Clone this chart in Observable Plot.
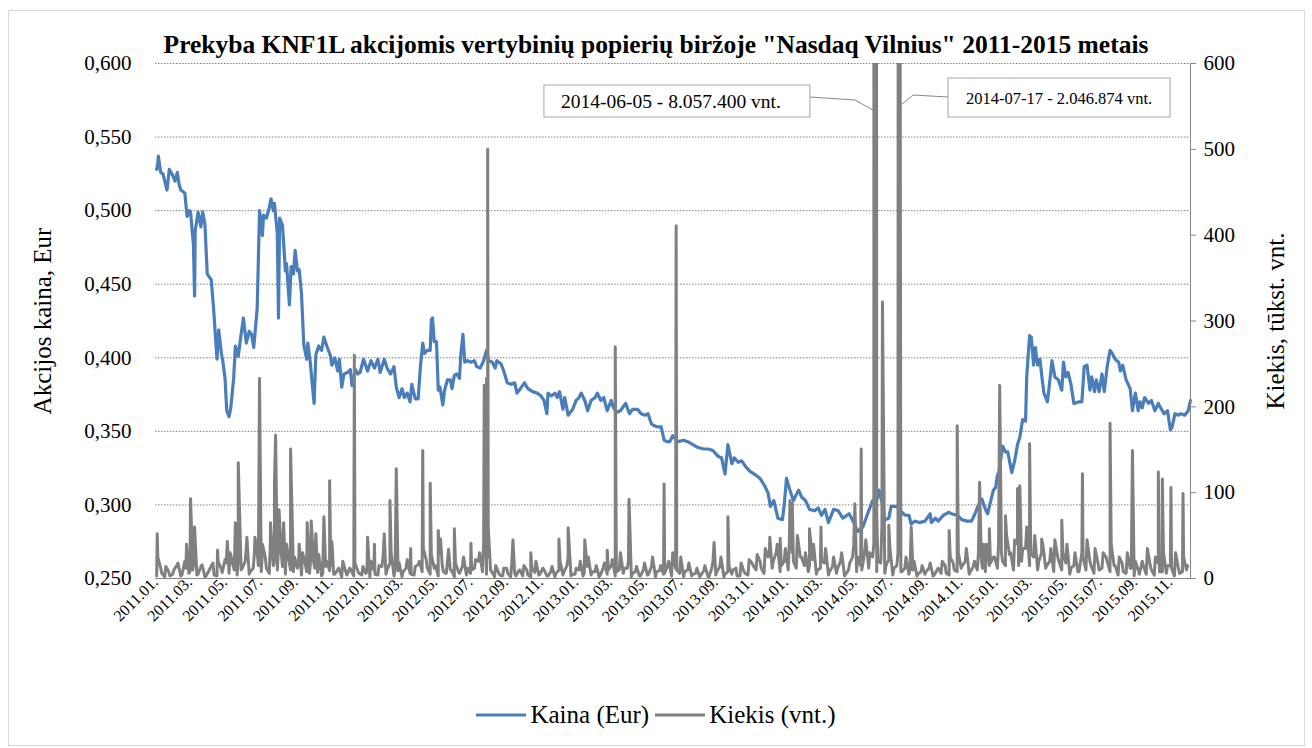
<!DOCTYPE html>
<html>
<head>
<meta charset="utf-8">
<script src="https://cdn.jsdelivr.net/npm/d3@7"></script>
<script src="https://cdn.jsdelivr.net/npm/@observablehq/plot@0.6"></script>
<style>
  body { margin: 0; background: #fff; font-family: "Liberation Serif", serif; }
  #wrap { position: relative; width: 1312px; height: 748px; overflow: hidden; background: #fff; }
  #frame { position: absolute; left: 8px; top: 10px; width: 1297px; height: 736px; border: 1px solid #d9d9d9; box-sizing: border-box; }
  #title { position: absolute; left: 0; top: 30px; width: 1312px; text-align: center; font-weight: bold; font-size: 25.5px; color: #000; font-family: "Liberation Serif", serif; }
  #chart { position: absolute; left: 0; top: 0; }
  #legend { position: absolute; left: 0; top: 701px; width: 1312px; display: flex; justify-content: center; align-items: center; font-size: 25px; color: #000; font-family: "Liberation Serif", serif; }
  #legend .item { display: flex; align-items: center; margin: 0 3px; }
  #legend svg { margin-right: 4px; }
</style>
</head>
<body>
<div id="wrap">
  <div id="frame"></div>
  <div id="chart"></div>
  <div id="title">Prekyba KNF1L akcijomis vertybinių popierių biržoje "Nasdaq Vilnius" 2011-2015 metais</div>
  <div id="legend"></div>
</div>
<script>
// ---------- data ----------
const priceLabel = "Kaina (Eur)";
const volumeLabel = "Kiekis (vnt.)";
const leftAxisTitle = "Akcijos kaina, Eur";
const rightAxisTitle = "Kiekis, tūkst. vnt.";

const xDomain = ["2011-01-01", "2015-12-07"];
const xTickLabels = ["2011.01.","2011.03.","2011.05.","2011.07.","2011.09.","2011.11.",
  "2012.01.","2012.03.","2012.05.","2012.07.","2012.09.","2012.11.",
  "2013.01.","2013.03.","2013.05.","2013.07.","2013.09.","2013.11.",
  "2014.01.","2014.03.","2014.05.","2014.07.","2014.09.","2014.11.",
  "2015.01.","2015.03.","2015.05.","2015.07.","2015.09.","2015.11."];
const priceTicks = [0.25, 0.30, 0.35, 0.40, 0.45, 0.50, 0.55, 0.60];
const volumeTicks = [0, 100, 200, 300, 400, 500, 600];

const priceDates = [
"2011-01-03","2011-01-05","2011-01-06","2011-01-10","2011-01-14","2011-01-21","2011-01-25","2011-01-31","2011-02-04","2011-02-08",
"2011-02-11","2011-02-14","2011-02-21","2011-02-25","2011-03-01","2011-03-03","2011-03-08","2011-03-10","2011-03-11","2011-03-16",
"2011-03-21","2011-03-24","2011-03-28","2011-04-01","2011-04-08","2011-04-12","2011-04-18","2011-04-21","2011-04-26","2011-04-28",
"2011-05-02","2011-05-05","2011-05-09","2011-05-12","2011-05-17","2011-05-20","2011-05-25","2011-05-30","2011-06-03","2011-06-08",
"2011-06-13","2011-06-17","2011-06-21","2011-06-27","2011-07-01","2011-07-04","2011-07-06","2011-07-08","2011-07-13","2011-07-18",
"2011-07-21","2011-07-25","2011-07-27","2011-08-01","2011-08-03","2011-08-05","2011-08-10","2011-08-15","2011-08-17","2011-08-22",
"2011-08-25","2011-08-29","2011-09-01","2011-09-05","2011-09-08","2011-09-12","2011-09-16","2011-09-21","2011-09-23","2011-09-27",
"2011-10-03","2011-10-04","2011-10-07","2011-10-12","2011-10-17","2011-10-21","2011-10-27","2011-11-01","2011-11-04","2011-11-09",
"2011-11-14","2011-11-17","2011-11-21","2011-11-25","2011-12-01","2011-12-06","2011-12-09","2011-12-15","2011-12-19","2011-12-23",
"2011-12-29","2012-01-05","2012-01-11","2012-01-17","2012-01-23","2012-01-27","2012-02-03","2012-02-08","2012-02-14","2012-02-20",
"2012-02-24","2012-02-29","2012-03-05","2012-03-09","2012-03-14","2012-03-19","2012-03-22","2012-03-28","2012-04-02","2012-04-06",
"2012-04-10","2012-04-13","2012-04-18","2012-04-23","2012-04-25","2012-04-27","2012-04-30","2012-05-04","2012-05-07","2012-05-10",
"2012-05-15","2012-05-18","2012-05-23","2012-05-28","2012-05-31","2012-06-04","2012-06-08","2012-06-13","2012-06-15","2012-06-19",
"2012-06-22","2012-06-27","2012-07-03","2012-07-09","2012-07-13","2012-07-19","2012-07-25","2012-07-30","2012-08-03","2012-08-09",
"2012-08-14","2012-08-17","2012-08-24","2012-08-29","2012-09-04","2012-09-11","2012-09-17","2012-09-21","2012-09-27","2012-10-04",
"2012-10-10","2012-10-18","2012-10-26","2012-11-02","2012-11-07","2012-11-12","2012-11-14","2012-11-20","2012-11-26","2012-11-30",
"2012-12-04","2012-12-10","2012-12-13","2012-12-19","2012-12-27","2013-01-02","2013-01-07","2013-01-11","2013-01-17","2013-01-22",
"2013-01-28","2013-02-04","2013-02-08","2013-02-14","2013-02-19","2013-02-25","2013-03-04","2013-03-08","2013-03-14","2013-03-20",
"2013-03-29","2013-04-05","2013-04-10","2013-04-19","2013-04-25","2013-05-02","2013-05-07","2013-05-13","2013-05-17","2013-05-24",
"2013-05-30","2013-06-04","2013-06-10","2013-06-14","2013-06-19","2013-06-28","2013-07-08","2013-07-15","2013-07-24","2013-08-02",
"2013-08-12","2013-08-20","2013-08-28","2013-09-06","2013-09-12","2013-09-18","2013-09-23","2013-09-30","2013-10-04","2013-10-11",
"2013-10-17","2013-10-24","2013-10-31","2013-11-08","2013-11-18","2013-11-26","2013-12-02","2013-12-06","2013-12-12","2013-12-19",
"2013-12-27","2013-12-30","2014-01-03","2014-01-09","2014-01-15","2014-01-20","2014-01-24","2014-01-30","2014-02-05","2014-02-12",
"2014-02-21","2014-02-27","2014-03-05","2014-03-11","2014-03-17","2014-03-26","2014-04-03","2014-04-11","2014-04-22","2014-04-29",
"2014-05-07","2014-05-16","2014-05-26","2014-06-02","2014-06-09","2014-06-13","2014-06-18","2014-06-23","2014-06-30","2014-07-04",
"2014-07-14","2014-07-18","2014-07-28","2014-08-04","2014-08-08","2014-08-14","2014-08-22","2014-09-01","2014-09-10","2014-09-12",
"2014-09-19","2014-09-24","2014-10-03","2014-10-13","2014-10-17","2014-10-27","2014-11-04","2014-11-13","2014-11-21","2014-11-27",
"2014-12-03","2014-12-09","2014-12-15","2014-12-19","2014-12-29","2015-01-02","2015-01-05","2015-01-08","2015-01-14","2015-01-19",
"2015-01-23","2015-01-30","2015-02-04","2015-02-09","2015-02-13","2015-02-18","2015-02-23","2015-02-25","2015-03-02","2015-03-05",
"2015-03-09","2015-03-12","2015-03-16","2015-03-20","2015-03-24","2015-03-27","2015-04-02","2015-04-07","2015-04-10","2015-04-15",
"2015-04-21","2015-04-27","2015-04-30","2015-05-04","2015-05-08","2015-05-13","2015-05-18","2015-05-26","2015-06-01","2015-06-05",
"2015-06-10","2015-06-15","2015-06-18","2015-06-23","2015-06-26","2015-07-01","2015-07-06","2015-07-10","2015-07-15","2015-07-20",
"2015-07-24","2015-07-29","2015-08-04","2015-08-07","2015-08-11","2015-08-17","2015-08-24","2015-08-28","2015-09-02","2015-09-07",
"2015-09-10","2015-09-14","2015-09-18","2015-09-25","2015-09-30","2015-10-06","2015-10-12","2015-10-16","2015-10-22","2015-10-28",
"2015-11-02","2015-11-05","2015-11-10","2015-11-16","2015-11-20","2015-11-27","2015-12-03","2015-12-07"];

const priceValues = [
.528,.532,.537,.526,.525,.514,.528,.524,.520,.526,
.518,.514,.512,.496,.500,.499,.477,.442,.486,.499,
.489,.499,.491,.457,.453,.434,.399,.419,.402,.398,
.386,.364,.360,.366,.386,.408,.401,.416,.427,.410,
.418,.416,.407,.434,.500,.491,.483,.497,.495,.502,
.508,.500,.505,.484,.427,.495,.490,.459,.464,.436,
.462,.457,.473,.459,.460,.444,.409,.399,.410,.398,
.373,.369,.402,.408,.405,.414,.407,.402,.395,.400,
.391,.399,.380,.389,.390,.392,.381,.392,.389,.390,
.399,.391,.398,.393,.399,.390,.399,.393,.389,.394,
.380,.373,.379,.373,.376,.370,.382,.372,.372,.394,
.410,.403,.405,.405,.426,.427,.411,.411,.378,.380,
.368,.378,.385,.385,.379,.388,.389,.386,.401,.416,
.397,.398,.397,.398,.394,.393,.398,.405,.398,.397,
.393,.398,.396,.391,.383,.382,.383,.376,.379,.383,
.379,.377,.376,.374,.371,.362,.376,.374,.376,.373,
.377,.365,.373,.361,.365,.371,.373,.376,.371,.364,
.371,.373,.376,.371,.373,.364,.371,.366,.363,.364,
.369,.362,.365,.365,.362,.361,.362,.355,.354,.353,
.353,.344,.343,.343,.347,.343,.344,.343,.341,.339,
.338,.338,.337,.333,.332,.321,.341,.328,.332,.329,
.330,.326,.323,.321,.318,.313,.308,.299,.303,.291,
.290,.300,.318,.310,.303,.307,.310,.305,.303,.297,
.296,.298,.293,.297,.288,.297,.296,.291,.294,.289,
.282,.285,.296,.303,.303,.310,.302,.290,.291,.299,
.299,.297,.293,.293,.287,.289,.288,.289,.294,.288,
.291,.289,.293,.295,.294,.293,.290,.289,.289,.294,
.300,.304,.297,.294,.310,.312,.320,.323,.340,.336,
.336,.322,.330,.341,.346,.358,.357,.387,.415,.414,
.395,.407,.395,.399,.385,.376,.370,.387,.398,.387,
.385,.378,.397,.387,.390,.382,.369,.370,.370,.394,
.395,.378,.387,.377,.385,.377,.389,.377,.394,.405,
.403,.399,.397,.391,.395,.385,.379,.364,.376,.364,
.370,.366,.373,.369,.371,.364,.369,.366,.362,.364,
.351,.353,.362,.361,.362,.361,.364,.371];

// baseline trading volume (thousand units): one Monday and one Wednesday value per week
const mondayStart = "2011-01-03";
const wednesdayStart = "2011-01-05";
const volumeMon2011 = [3,12,2,8,5,15,3,20,6,10,4,14,2,9,18,3,12,22,6,15,4,10,20,5,12,30,8,25,6,15,10,28,5,18,8,12,4,16,6,20,7,3,14,9,5,10,2,8,12,3,9,4];
const volumeMon2012 = [6,2,10,4,14,5,18,3,9,2,12,6,4,16,8,22,5,12,3,15,6,10,2,8,14,4,6,12,20,8,5,10,2,7,3,12,2,6,9,3,10,2,7,4,12,3,8,2,10,4,15,3];
const volumeMon2013 = [5,10,3,14,4,8,2,12,5,15,3,10,6,12,2,8,3,10,4,14,2,9,5,15,3,12,6,2,10,3,6,2,9,3,12,4,14,2,8,5,12,3,8,4,18,10,20,6,25,12,30,8];
const volumeMon2014 = [20,10,30,12,25,15,8,22,5,12,18,4,14,6,20,3,10,25,8,15,30,12,25,8,18,6,22,4,15,8,12,5,10,3,8,5,12,3,10,6,15,4,18,8,12,20,5,14,10,22,8,15];
const volumeMon2015 = [25,12,30,15,28,10,40,20,35,15,25,10,30,12,20,8,25,10,18,5,15,8,30,10,20,6,18,12,25,8,15,4,18,6,12,3,10,20,5,15,4,18,8,6,15,3,12,8,10];
const volumeWed2011 = [25,6,14,3, 10,18,4,12, 8,22,5,16,3, 12,4,20,7, 18,30,10,25, 12,35,8,28,15, 30,12,45,20, 35,14,40,10,25, 18,30,8,22, 12,28,6,20, 15,5,12,20,4, 10,18,6,14];
const volumeWed2012 = [8,20,5,15, 25,10,30,12,18, 8,22,5,14, 20,35,12,28, 15,30,8,20,10, 18,6,25,12, 10,22,30,40, 25,8,15,4,12, 6,18,3,10, 15,4,12,20,5, 10,3,14,6, 20,8,25,5];
const volumeWed2013 = [12,20,6,25,8, 15,4,18,10, 22,8,30,12, 20,6,14,3, 18,5,25,8,15, 6,20,30,10, 25,8,18,5,12, 4,15,2,20, 8,25,5,14, 10,3,18,6,22, 15,28,12,35, 30,20,40,15];
const volumeWed2014 = [35,45,20,50,25, 30,15,40,10, 20,35,8,25, 12,30,5,18,40, 25,10,45,30, 40,20,60,15, 35,12,30,8,25, 10,20,5,15, 8,18,4,12, 20,6,25,10,30, 15,35,8,20, 30,12,40,18,25];
const volumeWed2015 = [40,20,50,30, 45,15,35,60, 30,50,20,40, 15,35,45,20,30, 40,12,30,8, 25,45,15,35, 10,30,20,40,15, 25,8,30,12, 20,5,15,35,10, 25,8,30,15, 12,30,6,25, 15];

// single-day spikes (thousand units)
const spikeDates = [
"2011-01-04","2011-02-24","2011-03-03","2011-03-10","2011-04-19","2011-05-06","2011-05-20","2011-05-25","2011-06-09","2011-06-23",
"2011-07-01","2011-07-06","2011-07-20","2011-07-27","2011-07-29","2011-08-04","2011-08-12","2011-08-24","2011-09-08","2011-09-22",
"2011-09-29","2011-10-07","2011-10-21","2011-10-31","2011-11-04","2011-12-13","2012-01-05","2012-01-17","2012-02-03","2012-02-13",
"2012-02-24","2012-03-20","2012-04-10","2012-04-23","2012-05-07","2012-05-11","2012-05-25","2012-06-04","2012-07-03","2012-07-26",
"2012-07-27","2012-07-30","2012-07-31","2012-08-01","2012-08-02","2012-09-14","2012-10-15","2012-12-03","2012-12-19","2013-01-17",
"2013-02-25","2013-03-11","2013-04-04","2013-06-04","2013-06-25","2013-08-30","2013-09-23","2013-12-05","2013-12-23","2014-01-09",
"2014-01-13","2014-02-12","2014-03-04","2014-05-02","2014-05-13","2014-06-05","2014-06-09","2014-06-19","2014-06-30","2014-07-17",
"2014-08-08","2014-10-13","2014-10-27","2014-12-05","2014-12-12","2014-12-22","2015-01-09","2015-01-19","2015-02-09","2015-02-13",
"2015-03-02","2015-03-23","2015-04-27","2015-06-02","2015-07-20","2015-08-28","2015-10-12","2015-10-19","2015-11-03","2015-11-24"];
const spikeValues = [
52,40,93,60,33,43,65,135,48,48,
233,40,65,111,167,80,65,151,40,65,
67,52,72,114,43,260,48,40,52,91,
128,35,149,111,56,46,34,58,41,225,
150,233,120,500,60,45,30,46,59,45,
33,270,92,110,411,42,72,48,47,91,
88,58,60,87,151,8057.4,75,322,62,2046.874,
60,56,178,112,40,58,225,73,105,108,
157,46,68,122,181,149,124,116,106,99];

const annotations = [
  {date: "2014-06-05", text: "2014-06-05 - 8.057.400 vnt.", side: "left"},
  {date: "2014-07-17", text: "2014-07-17 - 2.046.874 vnt.", side: "right"}
];

// ---------- build ----------
const parse = d3.utcParse("%Y-%m-%d");
const parseTick = d3.utcParse("%Y.%m.");
const yMin = priceTicks[0], yMax = priceTicks[priceTicks.length - 1];
const vMax = volumeTicks[volumeTicks.length - 1];
const volToY = v => yMin + v / vMax * (yMax - yMin);

const priceData = priceDates.map((d, i) => ({date: parse(d), value: priceValues[i]}));
const weekRows = (startStr, arrays) => {
  const s = parse(startStr);
  return [].concat(...arrays).map((v, i) => ({date: d3.utcDay.offset(s, 7 * i), value: v}));
};
const volumeData = weekRows(mondayStart, [volumeMon2011, volumeMon2012, volumeMon2013, volumeMon2014, volumeMon2015])
  .concat(weekRows(wednesdayStart, [volumeWed2011, volumeWed2012, volumeWed2013, volumeWed2014, volumeWed2015]))
  .concat(spikeDates.map((d, i) => ({date: parse(d), value: spikeValues[i]})))
  .sort((a, b) => a.date - b.date);

const blue = "#4a7ebb", grey = "#808080", axisGrey = "#868686";

const chart = Plot.plot({
  width: 1312, height: 700,
  marginLeft: 155, marginRight: 122, marginTop: 63, marginBottom: 122,
  style: {fontFamily: "Liberation Serif, serif", fontSize: "20px", background: "transparent", color: "#000", overflow: "visible"},
  x: {type: "utc", domain: xDomain.map(parse)},
  y: {domain: [yMin, yMax]},
  marks: [
    Plot.gridY(priceTicks.slice(1), {stroke: "#7f7f7f", strokeOpacity: 1, strokeWidth: 1, strokeDasharray: "1.5,1.5"}),
    Plot.line(priceData, {x: "date", y: "value", stroke: blue, strokeWidth: 3.2, strokeLinejoin: "round"}),
    Plot.line(volumeData, {x: "date", y: d => volToY(d.value), stroke: grey, strokeWidth: 3, clip: true, strokeLinejoin: "round"}),
    Plot.ruleY([yMin], {stroke: axisGrey, strokeWidth: 1}),
    Plot.frame({anchor: "right", stroke: axisGrey, strokeWidth: 1}),
    Plot.axisX({ticks: xTickLabels.map(parseTick), tickFormat: d3.utcFormat("%Y.%m."), tickRotate: -45, tickSize: 0, tickPadding: 1, fontSize: 16, label: null}),
    Plot.axisY({anchor: "left", ticks: priceTicks, tickFormat: d => d.toFixed(3).replace(".", ","), tickSize: 0, tickPadding: 24, fontSize: 21, label: null}),
    Plot.axisY({anchor: "right", ticks: volumeTicks.map(volToY), tickFormat: (d, i) => String(volumeTicks[i]), tickSize: 5, tickPadding: 8, stroke: axisGrey, fontSize: 21, label: null}),
    Plot.text([leftAxisTitle], {frameAnchor: "left", rotate: -90, dx: -113, fontSize: 25, textAnchor: "middle", text: d => d}),
    Plot.text([rightAxisTitle], {frameAnchor: "right", rotate: -90, dx: 85, fontSize: 25, textAnchor: "middle", text: d => d})
  ]
});
document.getElementById("chart").appendChild(chart);

// annotations with boxes and leader lines, positioned via the chart's scales
const xs = chart.scale("x"), ys = chart.scale("y");
const svg = d3.select(chart);
const g = svg.append("g").attr("font-family", "Liberation Serif, serif").attr("text-anchor", "start").attr("fill", "#000");
const topY = ys.apply(yMax);
annotations.forEach(a => {
  const px = xs.apply(parse(a.date));
  if (a.side === "left") {
    const bx = px - 330, by = topY + 22, bw = 266, bh = 32;
    g.append("polyline").attr("points", `${bx + bw},${by + 12} ${px - 19},${by + 15} ${px - 1},${by + 25}`)
      .attr("fill", "none").attr("stroke", axisGrey).attr("stroke-width", 1);
    g.append("rect").attr("x", bx).attr("y", by).attr("width", bw).attr("height", bh)
      .attr("fill", "#fff").attr("stroke", "#a6a6a6");
    g.append("text").attr("x", bx + 17).attr("y", by + 23).attr("font-size", 19.5).text(a.text);
  } else {
    const bx = px + 50, by = topY + 15, bw = 222, bh = 39;
    g.append("polyline").attr("points", `${bx},${by + 19} ${px + 15},${by + 17} ${px + 4},${by + 26}`)
      .attr("fill", "none").attr("stroke", axisGrey).attr("stroke-width", 1);
    g.append("rect").attr("x", bx).attr("y", by).attr("width", bw).attr("height", bh)
      .attr("fill", "#fff").attr("stroke", "#a6a6a6");
    g.append("text").attr("x", bx + 18).attr("y", by + 26).attr("font-size", 16.5).text(a.text);
  }
});

// legend
const legend = d3.select("#legend");
[[priceLabel, blue], [volumeLabel, grey]].forEach(([label, color]) => {
  const item = legend.append("div").attr("class", "item");
  const s = item.append("svg").attr("width", 50).attr("height", 10);
  s.append("line").attr("x1", 0).attr("x2", 50).attr("y1", 5).attr("y2", 5).attr("stroke", color).attr("stroke-width", 3);
  item.append("span").text(label);
});
</script>
</body>
</html>
